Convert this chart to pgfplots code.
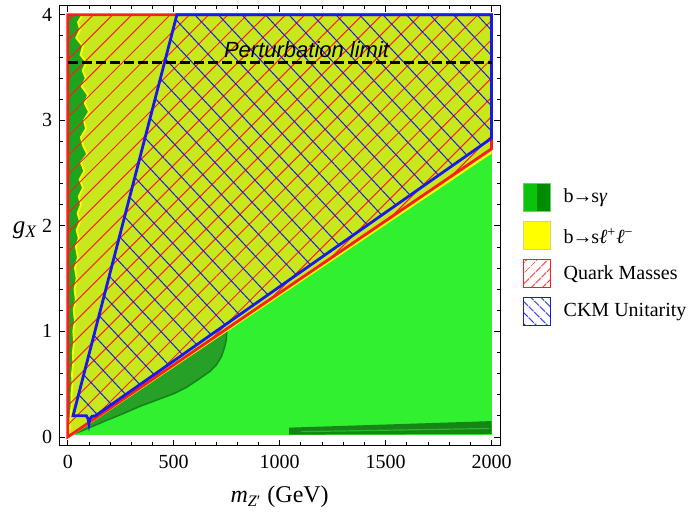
\documentclass[border=0pt]{standalone}
\usepackage{fontspec}
\setmainfont{Liberation Serif}
\newfontfamily\sansf{Liberation Sans}
\usepackage{pgfplots}
\pgfplotsset{compat=1.18}
\usetikzlibrary{patterns.meta}
\definecolor{brgreen}{RGB}{48,240,48}
\definecolor{ygreen}{RGB}{200,232,30}
\definecolor{dkgreen}{RGB}{38,160,38}
\definecolor{stripgreen}{RGB}{30,165,30}
\definecolor{edgegreen}{RGB}{22,132,22}
\definecolor{qred}{RGB}{250,30,30}
\definecolor{cblue}{RGB}{25,25,235}
\definecolor{yline}{RGB}{255,255,0}
\begin{document}
\begin{tikzpicture}
\begin{axis}[
  at={(0,0)}, anchor=south west,
  scale only axis, width=220.35pt, height=219.85pt,
  xmin=-40, xmax=2040, ymin=-0.083, ymax=4.083,
  xtick={0,500,1000,1500,2000}, minor x tick num=4,
  ytick={0,1,2,3,4}, minor y tick num=4,
  tick pos=both, tick align=inside,
  major tick length=3pt, minor tick length=1.6pt,
  every tick/.style={black, line width=0.4pt},
  axis line style={line width=0.5pt},
  axis on top,
  /pgf/number format/assume math mode=true,
  scaled ticks=false,
  /pgf/number format/1000 sep={},
  ticklabel style={font=\fontsize{10}{12}\selectfont},
  xticklabel style={yshift=-1.2pt},
  every axis x label/.style={at={(rel axis cs:0.5,0)},anchor=center,yshift=-25.5pt},
  every axis y label/.style={at={(rel axis cs:0,0.49)},anchor=center,xshift=-17pt},
  xlabel={\fontsize{12}{14}\selectfont\textit{m}\textsubscript{\textit{Z}′} (GeV)},
  ylabel={\fontsize{12.5}{14}\selectfont\textit{g}\textsubscript{\textit{X}}},
]
% bright green (b -> s gamma) region
\addplot[fill=brgreen, draw=none] coordinates {(0,0.015) (2000,0.015) (2000,4) (0,4)} -- cycle;
% bottom right dark band
\addplot[fill=edgegreen, draw=none] coordinates {(1045,0.022) (2000,0.028) (2000,0.15) (1045,0.088)} -- cycle;
\addplot[draw=dkgreen!70!brgreen, line width=0.6pt] coordinates {(1100,0.05) (1990,0.08)};
% dark lower-left region
\addplot[fill=dkgreen, draw=edgegreen, line width=0.8pt] coordinates {
 (0,0) (750,1.007) (748,0.92) (740,0.85) (725,0.76) (700,0.68) (670,0.62) (620,0.55)
 (560,0.47) (500,0.41) (420,0.35) (340,0.29) (260,0.22) (180,0.155) (110,0.095) (50,0.045) (0,0.012)} -- cycle;
% left strip
\addplot[fill=stripgreen, draw=none] coordinates {
 (0,0) (0,4)
 (70,4.0) (48,3.93) (58,3.86) (40,3.78) (72,3.70) (60,3.62) (88,3.55) (70,3.47) (85,3.40) (66,3.32)
 (95,3.24) (80,3.16) (100,3.08) (76,3.00) (86,2.92) (62,2.84) (72,2.76) (92,2.68) (62,2.60) (78,2.52)
 (56,2.44) (72,2.36) (52,2.28) (62,2.20) (46,2.12) (58,2.04) (42,1.96) (52,1.88) (38,1.80) (48,1.70)
 (34,1.60) (42,1.50) (32,1.40) (38,1.30) (28,1.20) (34,1.10) (26,1.00) (30,0.90) (24,0.80) (26,0.70)
 (20,0.60) (22,0.50) (17,0.40) (18,0.30) (13,0.20) (10,0.10) (5,0.0)} -- cycle;
% yellow (b -> s l l) region
\addplot[fill=ygreen, draw=none] coordinates {
 (70,4.0) (48,3.93) (58,3.86) (40,3.78) (72,3.70) (60,3.62) (88,3.55) (70,3.47) (85,3.40) (66,3.32)
 (95,3.24) (80,3.16) (100,3.08) (76,3.00) (86,2.92) (62,2.84) (72,2.76) (92,2.68) (62,2.60) (78,2.52)
 (56,2.44) (72,2.36) (52,2.28) (62,2.20) (46,2.12) (58,2.04) (42,1.96) (52,1.88) (38,1.80) (48,1.70)
 (34,1.60) (42,1.50) (32,1.40) (38,1.30) (28,1.20) (34,1.10) (26,1.00) (30,0.90) (24,0.80) (26,0.70)
 (20,0.60) (22,0.50) (17,0.40) (18,0.30) (13,0.20) (10,0.10) (5,0.0)
 (2000,2.695) (2000,4)} -- cycle;
\addplot[draw=yline, line width=0.9pt] coordinates {
 (70,4.0) (48,3.93) (58,3.86) (40,3.78) (72,3.70) (60,3.62) (88,3.55) (70,3.47) (85,3.40) (66,3.32)
 (95,3.24) (80,3.16) (100,3.08) (76,3.00) (86,2.92) (62,2.84) (72,2.76) (92,2.68) (62,2.60) (78,2.52)
 (56,2.44) (72,2.36) (52,2.28) (62,2.20) (46,2.12) (58,2.04) (42,1.96) (52,1.88) (38,1.80) (48,1.70)
 (34,1.60) (42,1.50) (32,1.40) (38,1.30) (28,1.20) (34,1.10) (26,1.00) (30,0.90) (24,0.80) (26,0.70)
 (20,0.60) (22,0.50) (17,0.40) (18,0.30) (13,0.20) (10,0.10) (5,0.0) (2000,2.695)};
% quark masses hatch
\addplot[draw=none, pattern={Lines[angle=45,distance=6.8pt,line width=0.5pt]}, pattern color=qred]
 coordinates {(0,0) (0,4) (2000,4) (2000,2.73)} -- cycle;
% CKM unitarity hatch
\addplot[draw=none, pattern={Lines[angle=-47,distance=8.6pt,line width=0.5pt]}, pattern color=cblue]
 coordinates {(515,4) (25,0.2) (88,0.2) (96,0.17) (100,0.125) (104,0.17) (115,0.195) (130,0.20) (2000,2.83) (2000,4)} -- cycle;
% outlines
\addplot[draw=qred, line width=1.4pt] coordinates {(0,0) (0,4) (2000,4) (2000,2.73)} -- cycle;
\addplot[draw=cblue, line width=1.4pt] coordinates {(515,4) (25,0.2) (88,0.2) (96,0.17) (100,0.125) (104,0.17) (115,0.195) (130,0.20) (2000,2.83) (2000,4)} -- cycle;
% perturbation limit
\addplot[black, line width=1.4pt, dash pattern=on 5pt off 2pt] coordinates {(0,3.55) (2000,3.55)};
\node[anchor=base, font=\sansf\itshape\fontsize{11}{13}\selectfont] at (axis cs:1127,3.592) {Perturbation limit};
\end{axis}
% legend
\begin{scope}[font=\fontsize{10}{12}\selectfont]
  \fill[green!75!black!95!white] (232pt,116.85pt) rectangle (238.85pt,130.85pt);
  \fill[green!55!black] (238.85pt,116.85pt) rectangle (245.7pt,130.85pt);
  \draw[green!70!black!60!white, line width=0.5pt] (232pt,116.85pt) rectangle (245.7pt,130.85pt);
  \node[anchor=west, inner sep=0pt] at (252pt,123.85pt) {b\kern-0.6pt→\kern-0.6pt s\textit{γ}};
  \fill[yline] (232pt,97.85pt) rectangle (245.7pt,111.85pt);
  \draw[yellow!70!black!60!white, line width=0.5pt] (232pt,97.85pt) rectangle (245.7pt,111.85pt);
  \node[anchor=west, inner sep=0pt] at (252pt,104.85pt) {b\kern-0.6pt→\kern-0.6pt s\textit{ℓ}\textsuperscript{+}\textit{ℓ}\textsuperscript{−}};
  \fill[pattern={Lines[angle=45,distance=4pt,line width=0.5pt]}, pattern color=qred] (232pt,79pt) rectangle (245.7pt,93pt);
  \draw[qred, line width=0.5pt] (232pt,79pt) rectangle (245.7pt,93pt);
  \node[anchor=west, inner sep=0pt] at (252pt,86pt) {Quark Masses};
  \fill[pattern={Lines[angle=-45,distance=4pt,line width=0.5pt]}, pattern color=cblue] (232pt,60pt) rectangle (245.7pt,74pt);
  \draw[cblue, line width=0.5pt] (232pt,60pt) rectangle (245.7pt,74pt);
  \node[anchor=west, inner sep=0pt] at (252pt,67pt) {CKM Unitarity};
\end{scope}
\pgfresetboundingbox
\useasboundingbox (-29.65pt,-33.15pt) rectangle (315.35pt,222.85pt);
\end{tikzpicture}
\end{document}
